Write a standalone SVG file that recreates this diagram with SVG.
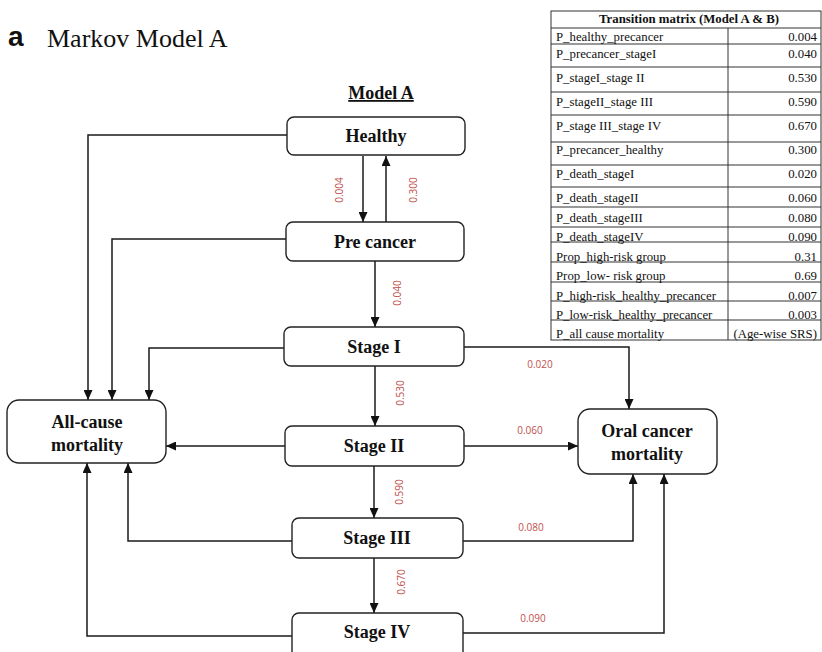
<svg xmlns="http://www.w3.org/2000/svg" width="822" height="652" viewBox="0 0 822 652">
<style>
.node rect{fill:#fff;stroke:#222;stroke-width:1.4}
.node text{font-family:"Liberation Serif",serif;font-weight:bold;font-size:18px;fill:#111;text-anchor:middle}
.conn path{fill:none;stroke:#1a1a1a;stroke-width:1.5}
.lbl{font-family:"Open Sans","Liberation Sans",sans-serif;font-size:10px;fill:#c0504d}
.tbl line,.tbl rect{stroke:#333;stroke-width:1;fill:none}
.tbl text{font-family:"Liberation Serif",serif;font-size:12.8px;fill:#111}
.tbl .v{text-anchor:end}
</style>
<defs>
<marker id="ah" markerUnits="userSpaceOnUse" markerWidth="10" markerHeight="9" refX="10" refY="4.5" orient="auto">
<path d="M0,0 L10,4.5 L0,9 z" fill="#111"/>
</marker>
</defs>
<rect width="822" height="652" fill="#fff"/>
<text x="8" y="46" font-family="Liberation Sans,sans-serif" font-weight="bold" font-size="28" fill="#111">a</text>
<text x="47" y="47" font-family="Liberation Serif,serif" font-size="26" fill="#111">Markov Model A</text>
<text x="381" y="99" font-family="Liberation Serif,serif" font-weight="bold" font-size="18" fill="#111" text-anchor="middle" text-decoration="underline">Model A</text>

<g class="tbl" id="table">
<rect x="551" y="11" width="270" height="329"/>
<line x1="728" y1="28" x2="728" y2="340"/>
<line x1="551" y1="28" x2="821" y2="28"/>
<line x1="551" y1="44" x2="821" y2="44"/>
<line x1="551" y1="67" x2="821" y2="67"/>
<line x1="551" y1="92" x2="821" y2="92"/>
<line x1="551" y1="115" x2="821" y2="115"/>
<line x1="551" y1="142" x2="821" y2="142"/>
<line x1="551" y1="165" x2="821" y2="165"/>
<line x1="551" y1="187" x2="821" y2="187"/>
<line x1="551" y1="207" x2="821" y2="207"/>
<line x1="551" y1="227" x2="821" y2="227"/>
<line x1="551" y1="242" x2="821" y2="242"/>
<line x1="551" y1="262" x2="821" y2="262"/>
<line x1="551" y1="282" x2="821" y2="282"/>
<line x1="551" y1="301" x2="821" y2="301"/>
<line x1="551" y1="320" x2="821" y2="320"/>
<text x="689" y="23" text-anchor="middle" font-weight="bold" font-size="12.5">Transition matrix (Model A &amp; B)</text>
<text x="556" y="41">P_healthy_precancer</text><text class="v" x="817" y="41">0.004</text>
<text x="556" y="58">P_precancer_stageI</text><text class="v" x="817" y="58">0.040</text>
<text x="556" y="82">P_stageI_stage II</text><text class="v" x="817" y="82">0.530</text>
<text x="556" y="106">P_stageII_stage III</text><text class="v" x="817" y="106">0.590</text>
<text x="556" y="130">P_stage III_stage IV</text><text class="v" x="817" y="130">0.670</text>
<text x="556" y="154">P_precancer_healthy</text><text class="v" x="817" y="154">0.300</text>
<text x="556" y="178">P_death_stageI</text><text class="v" x="817" y="178">0.020</text>
<text x="556" y="202">P_death_stageII</text><text class="v" x="817" y="202">0.060</text>
<text x="556" y="222">P_death_stageIII</text><text class="v" x="817" y="222">0.080</text>
<text x="556" y="241">P_death_stageIV</text><text class="v" x="817" y="241">0.090</text>
<text x="556" y="261">Prop_high-risk group</text><text class="v" x="817" y="261">0.31</text>
<text x="556" y="280">Prop_low- risk group</text><text class="v" x="817" y="280">0.69</text>
<text x="556" y="300">P_high-risk_healthy_precancer</text><text class="v" x="817" y="300">0.007</text>
<text x="556" y="319">P_low-risk_healthy_precancer</text><text class="v" x="817" y="319">0.003</text>
<text x="556" y="338">P_all cause mortality</text><text class="v" x="817" y="338">(Age-wise SRS)</text>
</g>

<g class="conn" id="connectors">
<path d="M287,135 H88 V400" marker-end="url(#ah)"/>
<path d="M286,239 H112 V400" marker-end="url(#ah)"/>
<path d="M284,348 H149 V400" marker-end="url(#ah)"/>
<path d="M285,446 H166" marker-end="url(#ah)"/>
<path d="M292,541 H128 V463" marker-end="url(#ah)"/>
<path d="M292,636 H87 V463" marker-end="url(#ah)"/>
<path d="M363,156 V222" marker-end="url(#ah)"/>
<path d="M386,222 V156" marker-end="url(#ah)"/>
<path d="M375,261 V327" marker-end="url(#ah)"/>
<path d="M375,366 V426" marker-end="url(#ah)"/>
<path d="M374,466 V518" marker-end="url(#ah)"/>
<path d="M374,558 V613" marker-end="url(#ah)"/>
<path d="M464,347 H629 V409" marker-end="url(#ah)"/>
<path d="M464,446 H578" marker-end="url(#ah)"/>
<path d="M463,541 H633 V474" marker-end="url(#ah)"/>
<path d="M463,633 H664 V474" marker-end="url(#ah)"/>
</g>

<g id="labels">
<text class="lbl" transform="translate(343,190) rotate(-90)" text-anchor="middle">0.004</text>
<text class="lbl" transform="translate(417,190) rotate(-90)" text-anchor="middle">0.300</text>
<text class="lbl" transform="translate(401,293) rotate(-90)" text-anchor="middle">0.040</text>
<text class="lbl" transform="translate(404,393) rotate(-90)" text-anchor="middle">0.530</text>
<text class="lbl" transform="translate(403,492) rotate(-90)" text-anchor="middle">0.590</text>
<text class="lbl" transform="translate(405,582) rotate(-90)" text-anchor="middle">0.670</text>
<text class="lbl" x="540" y="368" text-anchor="middle">0.020</text>
<text class="lbl" x="530" y="434" text-anchor="middle">0.060</text>
<text class="lbl" x="531" y="531" text-anchor="middle">0.080</text>
<text class="lbl" x="533" y="622" text-anchor="middle">0.090</text>
</g>

<g class="node" id="healthy"><rect x="287" y="117" width="178" height="38" rx="7"/><text x="376" y="142">Healthy</text></g>
<g class="node" id="precancer"><rect x="286" y="222" width="178" height="39" rx="7"/><text x="375" y="248">Pre cancer</text></g>
<g class="node" id="stage1"><rect x="284" y="327" width="180" height="39" rx="7"/><text x="374" y="353">Stage I</text></g>
<g class="node" id="stage2"><rect x="285" y="426" width="179" height="40" rx="7"/><text x="374" y="452">Stage II</text></g>
<g class="node" id="stage3"><rect x="292" y="518" width="171" height="40" rx="7"/><text x="377" y="544">Stage III</text></g>
<g class="node" id="stage4"><rect x="292" y="613" width="171" height="46" rx="7"/><text x="377" y="638">Stage IV</text></g>
<g class="node" id="allcause"><rect x="7" y="400" width="159" height="63" rx="12"/><text x="87" y="428">All-cause</text><text x="87" y="451">mortality</text></g>
<g class="node" id="oral"><rect x="578" y="409" width="139" height="65" rx="12"/><text x="647" y="437">Oral cancer</text><text x="647" y="460">mortality</text></g>
</svg>
